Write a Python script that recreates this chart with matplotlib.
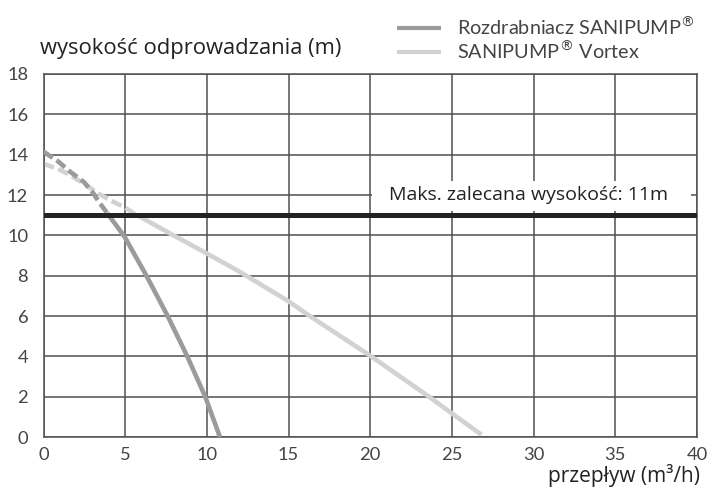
import matplotlib
matplotlib.use("Agg")
import matplotlib.pyplot as plt
from matplotlib.patches import Rectangle

# Pump curves: flow (m3/h) vs. discharge head (m)
grinder_flow = [0.0, 0.87, 1.67, 2.48, 3.0, 3.4, 3.9, 4.95, 6.3, 7.6, 8.8, 9.9, 10.8]
grinder_head = [14.15, 13.68, 13.13, 12.64, 12.14, 11.65, 11.1, 9.95, 8.0, 6.0, 4.0, 2.0, 0.0]
grinder_split = 6  # points up to this index are above the recommended head (dashed)

vortex_flow = [0.0, 0.87, 1.67, 2.48, 3.39, 4.3, 4.95, 5.7, 6.0, 8.0, 10.0, 12.0, 15.0, 16.3, 20.0, 23.6, 25.0, 26.8]
vortex_head = [13.55, 13.3, 12.97, 12.56, 12.06, 11.65, 11.4, 11.0, 10.88, 9.98, 9.1, 8.2, 6.73, 6.0, 4.03, 2.0, 1.17, 0.12]
vortex_split = 8

max_head = 11.0
series_names = ["Rozdrabniacz SANIPUMP$^{®}$", "SANIPUMP$^{®}$ Vortex"]
x_ticks = list(range(0, 41, 5))
y_ticks = list(range(0, 19, 2))

label_font = ["Open Sans", "DejaVu Sans"]
tick_font = ["Lato", "DejaVu Sans"]

fig = plt.figure(figsize=(7.12, 4.90), dpi=100)
ax = fig.add_axes([0.0611, 0.108, 0.9179, 0.741])

ax.set_xlim(0, 40)
ax.set_ylim(0, 18)
ax.set_xticks(x_ticks)
ax.set_yticks(y_ticks)
ax.grid(True, color="#505050", linewidth=1.1, zorder=1)
ax.set_axisbelow(True)
for sp in ax.spines.values():
    sp.set_color("#505050")
    sp.set_linewidth(1.1)
ax.tick_params(length=0, labelsize=13.2, labelcolor="#444444")
ax.tick_params(axis="y", pad=11)
ax.tick_params(axis="x", pad=7)
for lab in ax.get_xticklabels() + ax.get_yticklabels():
    lab.set_family(tick_font)

dark = "#9b9b9b"
light = "#d2d2d2"
lw = 3.3

# grinder pump
ax.plot(grinder_flow[:grinder_split + 1], grinder_head[:grinder_split + 1],
        color=dark, lw=lw, dashes=(2.4, 1.0), dash_capstyle="butt", zorder=3)
g_line, = ax.plot(grinder_flow[grinder_split:], grinder_head[grinder_split:],
                  color=dark, lw=lw, solid_capstyle="butt", zorder=3,
                  label=series_names[0])

# vortex pump
ax.plot(vortex_flow[:vortex_split + 1], vortex_head[:vortex_split + 1],
        color=light, lw=lw, dashes=(2.4, 1.0), dash_capstyle="butt", zorder=2)
v_line, = ax.plot(vortex_flow[vortex_split:], vortex_head[vortex_split:],
                  color=light, lw=lw, solid_capstyle="butt", zorder=2,
                  label=series_names[1])

# recommended maximum head
ax.axhline(max_head, color="#222222", lw=3.6, zorder=5)
ax.add_patch(Rectangle((20.1, 11.2), 19.5, 1.5, facecolor="white",
                       edgecolor="none", zorder=4))
ax.text(29.66, 12.0, "Maks. zalecana wysokość: 11m", ha="center", va="center",
        fontsize=14, color="#222222", family=label_font, zorder=6)

fig.text(0.056, 0.902, "wysokość odprowadzania (m)", ha="left", va="center",
         fontsize=15.8, color="#222222", family=label_font)
fig.text(0.983, 0.029, "przepływ (m³/h)", ha="right", va="center",
         fontsize=15, color="#222222", family=label_font)

leg = fig.legend(handles=[g_line, v_line], loc="upper left",
                 bbox_to_anchor=(0.533, 1.005), frameon=False,
                 prop={"family": tick_font, "size": 14.3},
                 handlelength=2.2, handletextpad=0.8, labelspacing=0.1)
for t in leg.get_texts():
    t.set_color("#444444")
for h in leg.legend_handles:
    h.set_linewidth(3.0)

fig.savefig("out.png", dpi=100)
